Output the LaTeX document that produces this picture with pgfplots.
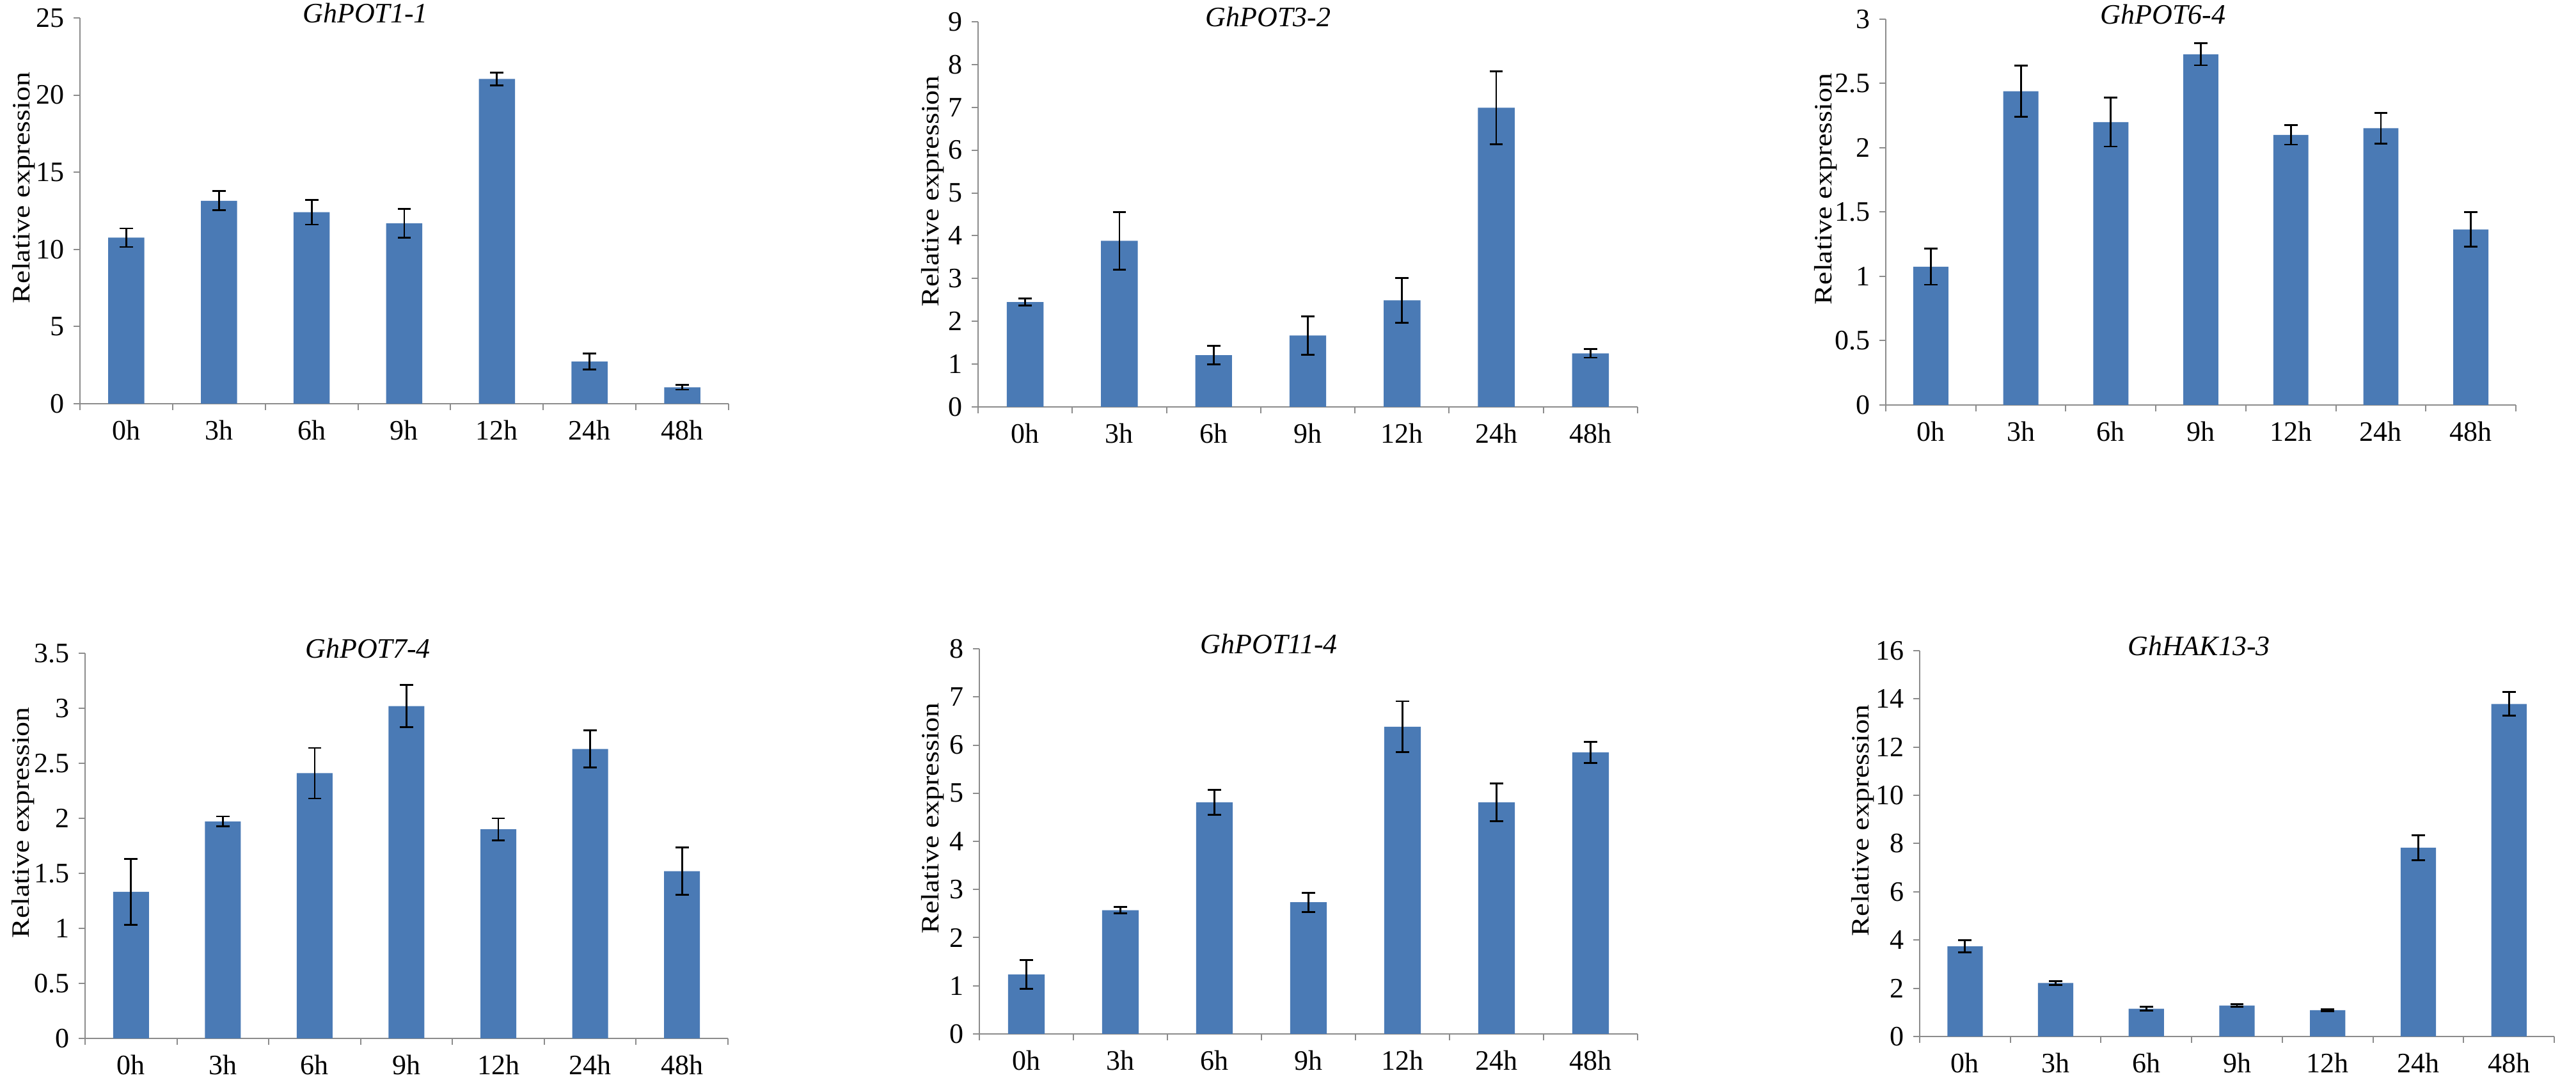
\documentclass[border=0pt]{standalone}
\usepackage{fontspec}
\setmainfont{Liberation Serif}
\usepackage{pgfplots}
\pgfplotsset{compat=1.18}
\definecolor{barblue}{HTML}{4A7AB5}
\definecolor{axgray}{HTML}{8C8C8C}
\pgfplotsset{
  panel/.style={
    scale only axis,
    anchor=south west,
    xmin=-0.5, xmax=6.5, ymin=0,
    axis x line*=bottom, axis y line*=left,
    axis line style={axgray, line width=0.5pt, -},
    xtick={0,...,6},
    xticklabels={0h,3h,6h,9h,12h,24h,48h},
    minor xtick={-0.5,0.5,...,6.5},
    major x tick style={draw=none},
    minor x tick style={axgray, line width=0.5pt},
    ytick style={axgray, line width=0.5pt},
    tick align=outside,
    major tick length=2.5pt, minor tick length=2.5pt,
    /pgf/number format/assume math mode=true,
    yticklabel style={font=\fontsize{11}{13}\selectfont},
    xticklabel style={font=\fontsize{11}{13}\selectfont, yshift=-0.5pt},
    ylabel={\scalebox{1}[0.85]{Relative expression}},
    ylabel style={font=\fontsize{11.5}{13}\selectfont, inner sep=0pt},
    title style={at={(axis description cs:0.44,0.972)}, anchor=center, font=\itshape\fontsize{11}{13}\selectfont},
    ybar, bar width=0.39,
  },
  ylab/.style={ylabel style={at={([xshift=-#1]axis description cs:0,0.56)}, anchor=base}},
  bars/.style={fill=barblue, draw=none,
    error bars/.cd, y dir=both, y explicit,
    error bar style={line width=0.7pt, black},
    error mark options={rotate=90, mark size=2.6pt, line width=0.7pt, black}},
}
\begin{document}
\begin{tikzpicture}
\useasboundingbox (0,0) rectangle (1006.75pt,422pt);
% Panel 1
\begin{axis}[panel, ylab=19.5pt, at={(31.25pt,264.25pt)}, width=253.5pt, height=150.75pt,
  ymax=25, ytick={0,5,...,25}, title={GhPOT1-1}]
\addplot[bars] coordinates {
  (0,10.76) +- (0,0.60)
  (1,13.15) +- (0,0.62)
  (2,12.41) +- (0,0.80)
  (3,11.69) +- (0,0.92)
  (4,21.04) +- (0,0.42)
  (5,2.73) +- (0,0.52)
  (6,1.06) +- (0,0.15)
};
\end{axis}
% Panel 2
\begin{axis}[panel, ylab=15.5pt, at={(382.25pt,263pt)}, width=257.75pt, height=150.5pt,
  ymax=9, ytick={0,1,...,9}, title={GhPOT3-2}]
\addplot[bars] coordinates {
  (0,2.45) +- (0,0.08)
  (1,3.88) +- (0,0.67)
  (2,1.21) +- (0,0.22)
  (3,1.67) +- (0,0.45)
  (4,2.49) +- (0,0.52)
  (5,6.99) +- (0,0.85)
  (6,1.25) +- (0,0.10)
};
\end{axis}
% Panel 3
\begin{axis}[panel, ylab=21.25pt, at={(737pt,263.75pt)}, width=246.25pt, height=150.75pt,
  ymax=3, ytick={0,0.5,1,1.5,2,2.5,3}, title={GhPOT6-4}]
\addplot[bars] coordinates {
  (0,1.075) +- (0,0.14)
  (1,2.44) +- (0,0.20)
  (2,2.20) +- (0,0.19)
  (3,2.727) +- (0,0.085)
  (4,2.10) +- (0,0.075)
  (5,2.152) +- (0,0.12)
  (6,1.365) +- (0,0.135)
};
\end{axis}
% Panel 4
\begin{axis}[panel, ylab=22pt, at={(33.25pt,16.25pt)}, width=251.25pt, height=150.5pt,
  ymax=3.5, ytick={0,0.5,1,1.5,2,2.5,3,3.5}, title={GhPOT7-4}]
\addplot[bars] coordinates {
  (0,1.332) +- (0,0.30)
  (1,1.972) +- (0,0.045)
  (2,2.41) +- (0,0.23)
  (3,3.02) +- (0,0.19)
  (4,1.90) +- (0,0.10)
  (5,2.63) +- (0,0.17)
  (6,1.52) +- (0,0.215)
};
\end{axis}
% Panel 5
\begin{axis}[panel, ylab=16pt, at={(382.75pt,18pt)}, width=257.25pt, height=150.5pt,
  ymax=8, ytick={0,1,...,8}, title={GhPOT11-4}]
\addplot[bars] coordinates {
  (0,1.233) +- (0,0.30)
  (1,2.57) +- (0,0.07)
  (2,4.81) +- (0,0.26)
  (3,2.735) +- (0,0.20)
  (4,6.38) +- (0,0.53)
  (5,4.81) +- (0,0.39)
  (6,5.85) +- (0,0.22)
};
\end{axis}
% Panel 6
\begin{axis}[panel, ylab=20pt, at={(750.25pt,17pt)}, width=248pt, height=150.75pt,
  ymax=16, ytick={0,2,...,16}, title={GhHAK13-3}]
\addplot[bars] coordinates {
  (0,3.74) +- (0,0.26)
  (1,2.22) +- (0,0.08)
  (2,1.15) +- (0,0.08)
  (3,1.28) +- (0,0.05)
  (4,1.09) +- (0,0.04)
  (5,7.83) +- (0,0.51)
  (6,13.79) +- (0,0.49)
};
\end{axis}
\end{tikzpicture}
\end{document}
